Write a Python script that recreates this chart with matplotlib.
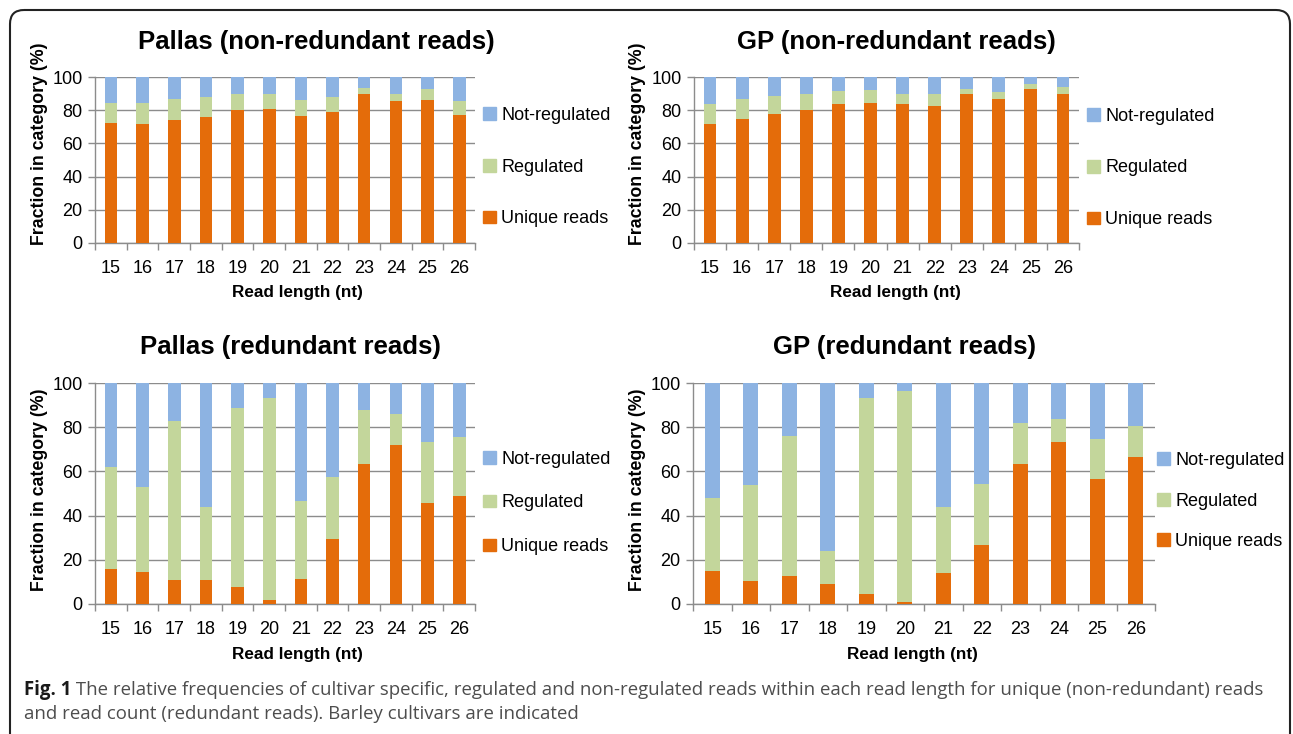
import matplotlib.pyplot as plt
import numpy as np
from matplotlib.patches import FancyBboxPatch, Patch

plt.rcParams['font.family'] = ['Liberation Sans', 'DejaVu Sans']

W, H = 1293, 734

read_lengths = [15, 16, 17, 18, 19, 20, 21, 22, 23, 24, 25, 26]

# percent of unique reads, and unique + regulated (top of the green segment)
pallas_nr_unique = [72, 71.5, 74, 76, 80, 81, 76.5, 79, 90, 85.5, 86, 77]
pallas_nr_upto_reg = [84.5, 84.5, 86.5, 88, 90, 90, 86, 88, 93.5, 89.5, 92.5, 85.5]

gp_nr_unique = [71.5, 75, 78, 80, 83.5, 84.5, 83.5, 82.5, 89.5, 87, 92.5, 90]
gp_nr_upto_reg = [84, 86.5, 88.5, 90, 91.5, 92, 90, 90, 93, 91, 96, 94]

pallas_r_unique = [16, 14.5, 11, 11, 7.5, 2, 11.5, 29.5, 63.5, 72, 45.5, 49]
pallas_r_upto_reg = [62, 53, 83, 44, 88.5, 93, 46.5, 57.5, 88, 86, 73.5, 75.5]

gp_r_unique = [15, 10.5, 12.5, 9, 4.5, 1, 14, 26.5, 63.5, 73.5, 56.5, 66.5]
gp_r_upto_reg = [48, 54, 76, 24, 93, 96.5, 44, 54.5, 82, 83.5, 74.5, 80.5]

ORANGE = '#E46C0A'
GREEN = '#C3D69B'
BLUE = '#8DB3E2'
GRID = '#8C8C8C'

fig = plt.figure(figsize=(W / 100, H / 100), dpi=100)


def fx(x):
    return x / W


def fy(y):
    return 1 - y / H


# frame around the figure panel and caption
bg = fig.add_axes([0, 0, 1, 1])
bg.set_xlim(0, W)
bg.set_ylim(H, 0)
bg.axis('off')
bg.add_patch(FancyBboxPatch((10, 10), 1280, 740, boxstyle='round,pad=0,rounding_size=14',
                            fill=False, edgecolor='#222222', linewidth=1.5))

panels = [
    # title, unique, upto_reg, axes box (l, t, r, b), title xy, xlabel xy, ylabel xy, legend xy, spacing
    ('Pallas (non-redundant reads)', pallas_nr_unique, pallas_nr_upto_reg,
     (95, 77, 475, 243), (316, 42), (297, 293), (40, 144), (483, 167), 2.0),
    ('GP (non-redundant reads)', gp_nr_unique, gp_nr_upto_reg,
     (694, 77, 1079, 243), (896, 42), (895, 293), (637, 144), (1087, 168), 2.0),
    ('Pallas (redundant reads)', pallas_r_unique, pallas_r_upto_reg,
     (95, 383, 475, 604), (290, 347), (297, 655), (40, 490), (483, 503), 1.55),
    ('GP (redundant reads)', gp_r_unique, gp_r_upto_reg,
     (693, 383, 1155, 604), (904, 347), (912, 655), (637, 490), (1157, 501), 1.35),
]

x = np.arange(len(read_lengths))

for title, unique, upto, box, tpos, xlpos, ylpos, lgpos, spacing in panels:
    l, t, r, b = box
    ax = fig.add_axes([fx(l), fy(b), fx(r) - fx(l), fy(t) - fy(b)])
    unique = np.array(unique)
    regulated = np.array(upto) - unique
    not_reg = 100 - np.array(upto)

    ax.bar(x, unique, width=0.4, color=ORANGE, label='Unique reads', zorder=3)
    ax.bar(x, regulated, width=0.4, bottom=unique, color=GREEN, label='Regulated', zorder=3)
    ax.bar(x, not_reg, width=0.4, bottom=unique + regulated, color=BLUE,
           label='Not-regulated', zorder=3)

    ax.set_xlim(-0.5, len(x) - 0.5)
    ax.set_ylim(0, 100)
    ax.set_yticks(range(0, 101, 20))
    ax.yaxis.grid(True, color=GRID, linewidth=1, zorder=0)
    ax.set_xticks(x)
    ax.set_xticklabels([str(v) for v in read_lengths])
    ax.set_xticks(np.arange(-0.5, len(x)), minor=True)
    ax.tick_params(axis='x', which='major', length=0, pad=12, labelsize=13)
    ax.tick_params(axis='x', which='minor', length=5, color=GRID, width=1)
    ax.tick_params(axis='y', length=5, color=GRID, width=1, pad=4, labelsize=13)
    for s in ['top', 'right']:
        ax.spines[s].set_visible(False)
    for s in ['left', 'bottom']:
        ax.spines[s].set_color(GRID)
        ax.spines[s].set_linewidth(1)

    fig.text(fx(tpos[0]), fy(tpos[1]), title, ha='center', va='center',
             fontsize=18.5, fontweight='bold')
    fig.text(fx(xlpos[0]), fy(xlpos[1]), 'Read length (nt)', ha='center', va='center',
             fontsize=12.3, fontweight='bold')
    fig.text(fx(ylpos[0]), fy(ylpos[1]), 'Fraction in category (%)', ha='center',
             va='center', rotation=90, fontsize=12.8, fontweight='bold')

    handles = [Patch(color=BLUE), Patch(color=GREEN), Patch(color=ORANGE)]
    ax.legend(handles, ['Not-regulated', 'Regulated', 'Unique reads'],
              loc='center left', bbox_to_anchor=(fx(lgpos[0]), fy(lgpos[1])),
              bbox_transform=fig.transFigure, frameon=False, fontsize=13,
              handlelength=0.7, handleheight=0.7, handletextpad=0.3,
              labelspacing=spacing * 12.5 / 13, borderpad=0, borderaxespad=0)

# caption
cap = bg.text(24, 690, 'Fig. 1', fontsize=13.4, fontweight='bold', color='#1A1A1A',
              family='Open Sans', va='center', ha='left')
bg.annotate(' The relative frequencies of cultivar specific, regulated and non-regulated reads '
            'within each read length for unique (non-redundant) reads',
            xy=(1, 0.5), xycoords=cap, va='center', ha='left', fontsize=13.4,
            color='#4D4D4D', family='Open Sans')
bg.text(24, 714, 'and read count (redundant reads). Barley cultivars are indicated',
        fontsize=13.4, color='#4D4D4D', family='Open Sans', va='center', ha='left')

fig.savefig('out.png', dpi=100)
